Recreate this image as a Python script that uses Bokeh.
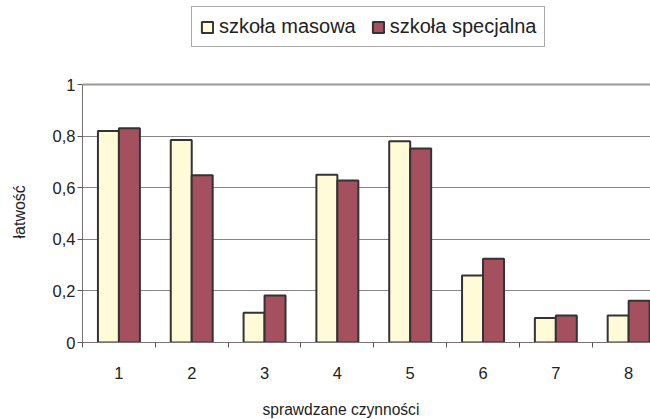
from bokeh.plotting import figure
from bokeh.models import (ColumnDataSource, Range1d, FixedTicker, Legend, LegendItem,
                          Title, Span, CustomJSTickFormatter)
from bokeh.transform import dodge
from bokeh.embed import file_html
from bokeh.resources import INLINE

# ---- data ----
categories = ["1", "2", "3", "4", "5", "6", "7", "8"]
masowa = [0.82, 0.785, 0.115, 0.65, 0.78, 0.26, 0.095, 0.105]
specjalna = [0.83, 0.648, 0.182, 0.628, 0.752, 0.325, 0.105, 0.162]
y_ticks = [0, 0.2, 0.4, 0.6, 0.8, 1]
series_names = ["szkoła masowa", "szkoła specjalna"]
x_title = "sprawdzane czynności"
y_title = "łatwość"

# ---- style ----
FONT = "Liberation Sans"
TXT = "#222222"
YELLOW = "#FFFAD7"
RED = "#A5505E"
EDGE = "#333333"
GRID = "#868686"

pos = list(range(1, len(categories) + 1))
src = ColumnDataSource(dict(x=pos, m=masowa, s=specjalna))

# frame extends to the canvas top so the legend can sit inside it;
# axis and grid are bounded to the 0..1 value scale
p = figure(width=650, height=419, output_backend="svg", toolbar_location=None,
           x_range=Range1d(0.5, 8.3), y_range=Range1d(0, 1.3256),
           min_border_left=82, min_border_right=0, min_border_top=0,
           min_border_bottom=77)
p.outline_line_color = None
p.background_fill_color = "white"
p.border_fill_color = "white"

bw = 0.288
r1 = p.vbar(x=dodge("x", -bw / 2, range=p.x_range), top="m", width=bw, source=src,
            fill_color=YELLOW, line_color=EDGE, line_width=2)
r2 = p.vbar(x=dodge("x", bw / 2, range=p.x_range), top="s", width=bw, source=src,
            fill_color=RED, line_color=EDGE, line_width=2)

# top border of plot area
p.add_layout(Span(location=y_ticks[-1], dimension="width", line_color="#A09696", line_width=2))

# x axis
xa = p.xaxis[0]
xa.ticker = FixedTicker(ticks=pos, minor_ticks=[v - 0.5 for v in pos])
xa.major_label_overrides = {v: c for v, c in zip(pos, categories)}
xa.major_tick_out = 0
xa.major_tick_in = 0
xa.minor_tick_out = 5
xa.minor_tick_in = 0
xa.minor_tick_line_color = "#555555"
xa.axis_line_color = "#7a7070"
xa.axis_line_width = 1
xa.major_label_standoff = 19
xa.major_label_text_font = FONT
xa.major_label_text_font_size = "16.5px"
xa.major_label_text_color = TXT

# x title: leading empty line keeps it low without enlarging the border
p.add_layout(Title(text="\n" + x_title, align="left", offset=180, standoff=1, text_font=FONT,
                   text_font_size="15.6px", text_font_style="normal",
                   text_color=TXT), "below")

# y axis
ya = p.yaxis[0]
ya.bounds = (y_ticks[0], y_ticks[-1])
ya.ticker = FixedTicker(ticks=y_ticks, minor_ticks=[])
ya.formatter = CustomJSTickFormatter(code="return String(Math.round(tick*10)/10).replace('.', ',');")
ya.major_tick_out = 5
ya.major_tick_in = 0
ya.major_tick_line_color = "#555555"
ya.axis_line_color = "#7a7070"
ya.major_label_standoff = 2
ya.major_label_text_font = FONT
ya.major_label_text_font_size = "16.5px"
ya.major_label_text_color = TXT

# y-axis title, centred on the 0..1 scale (below the legend area)
p.add_layout(Title(text=y_title + "\n", align="left", offset=104, standoff=10, text_font=FONT,
                   text_font_size="16px", text_font_style="normal",
                   text_color=TXT), "left")

p.xgrid.grid_line_color = None
p.ygrid.ticker = FixedTicker(ticks=y_ticks[:-1])
p.ygrid.grid_line_color = GRID
p.ygrid.grid_line_width = 1

legend = Legend(items=[LegendItem(label=series_names[0], renderers=[r1]),
                       LegendItem(label=series_names[1], renderers=[r2])],
                orientation="horizontal", location=(109, 295),
                label_text_font=FONT, label_text_font_size="20px",
                label_text_color=TXT, glyph_width=14, glyph_height=14,
                label_standoff=5, spacing=15, padding=8, margin=0,
                border_line_color="#555555", border_line_width=1,
                label_height=19, background_fill_color="white")
p.add_layout(legend, "center")

open("out.html", "w").write(file_html(p, INLINE))
